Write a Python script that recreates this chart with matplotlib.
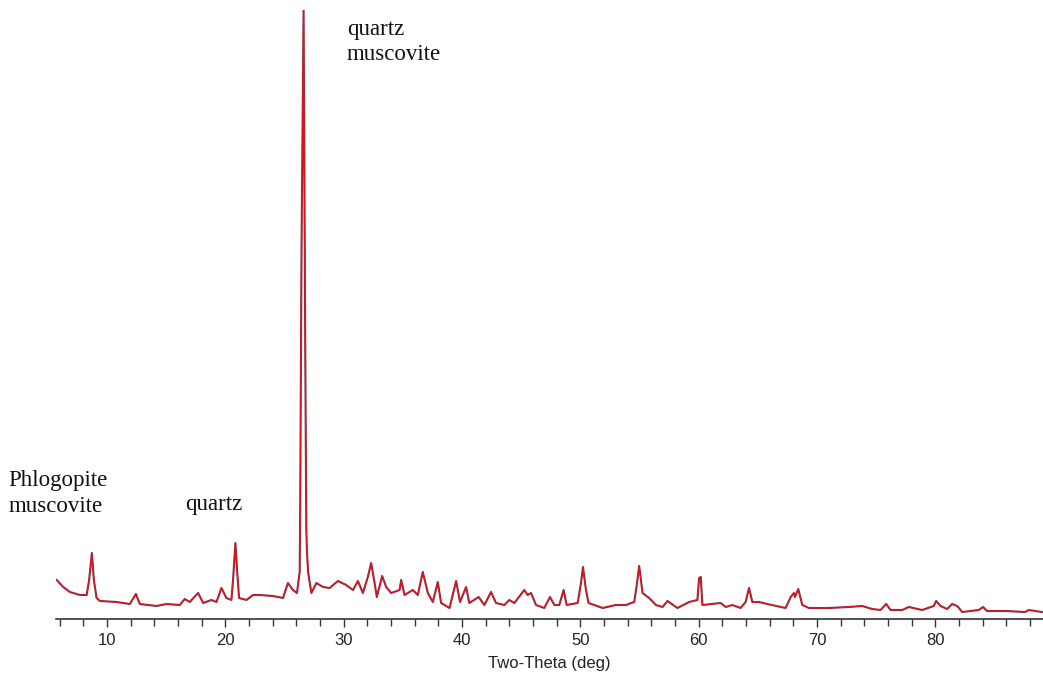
import numpy as np
import matplotlib.pyplot as plt

# XRD trace (2-theta in degrees, intensity in counts)
two_theta = [5.76, 6.31, 6.88, 7.72, 8.29, 8.50, 8.73, 8.90, 9.13, 9.41,
             10.82, 11.94, 12.45, 12.78, 14.19, 15.04, 16.16, 16.58, 17.00, 17.71,
             18.13, 18.83, 19.26, 19.68, 20.10, 20.52, 20.66, 20.86, 21.00, 21.17,
             21.79, 22.35, 22.91, 24.03, 24.88, 25.30, 25.72, 26.06, 26.29, 26.33,
             26.45, 26.62, 26.75, 26.85, 26.90, 27.00, 27.28, 27.70, 28.26, 28.82,
             29.52, 30.22, 30.79, 31.21, 31.63, 32.05, 32.33, 32.62, 32.81, 33.26,
             33.60, 34.02, 34.73, 34.87, 35.15, 35.85, 36.27, 36.69, 37.12, 37.54,
             37.96, 38.24, 38.95, 39.51, 39.84, 40.35, 40.63, 41.41, 41.90, 42.46,
             42.88, 43.59, 44.00, 44.43, 45.27, 45.55, 45.84, 46.26, 46.96, 47.44,
             47.81, 48.23, 48.59, 48.85, 49.78, 50.06, 50.23, 50.48, 50.70, 51.89,
             53.01, 53.86, 54.56, 54.75, 54.98, 55.26, 55.82, 56.39, 56.95, 57.37,
             58.21, 59.20, 59.90, 60.04, 60.18, 60.32, 61.86, 62.29, 62.85, 63.55,
             63.97, 64.26, 64.54, 65.10, 65.80, 67.35, 67.78, 68.06, 68.14, 68.42,
             68.76, 69.32, 71.01, 72.70, 73.82, 74.66, 75.37, 75.85, 76.22, 77.20,
             77.76, 78.89, 79.87, 80.07, 80.44, 81.00, 81.42, 81.85, 82.27, 83.67,
             84.04, 84.37, 85.93, 87.60, 87.89, 89.00]
counts = [195, 160, 135, 120, 120, 195, 330, 195, 105, 90,
          85, 75, 125, 75, 65, 75, 70, 100, 85, 130,
          80, 95, 85, 155, 105, 95, 195, 380, 245, 105,
          95, 120, 120, 115, 105, 180, 145, 130, 235, 520,
          1880, 3045, 1480, 450, 345, 235, 130, 180, 160, 155,
          190, 170, 145, 190, 130, 210, 280, 180, 110, 215,
          160, 130, 145, 195, 120, 145, 120, 235, 130, 85,
          185, 80, 55, 190, 85, 160, 80, 110, 70, 135,
          80, 70, 95, 80, 145, 120, 130, 70, 55, 110,
          70, 70, 145, 70, 80, 180, 260, 145, 80, 55,
          70, 70, 85, 160, 265, 130, 105, 70, 60, 90,
          55, 85, 95, 205, 210, 70, 80, 60, 70, 55,
          85, 155, 85, 85, 75, 55, 110, 130, 110, 150,
          70, 55, 55, 60, 65, 50, 45, 75, 45, 45,
          60, 45, 65, 90, 65, 50, 75, 65, 35, 45,
          60, 40, 40, 35, 45, 35]

# phase labels: (text, x, y)
labels = [('Phlogopite', 1.68, 665), ('muscovite', 1.68, 535),
          ('quartz', 16.6, 545),
          ('quartz', 30.26, 2920), ('muscovite', 30.26, 2795)]

fig = plt.figure(figsize=(10.43, 6.73), dpi=100)
ax = fig.add_axes([56 / 1043, 54 / 673, 987 / 1043, 609 / 673])

ax.plot(two_theta, counts, color='#8a3040', lw=1.5)
ax.plot(two_theta, counts, color='#e8101c', lw=0.7)

ax.set_xlim(5.7, 89.1)
ax.set_ylim(0, 3045)

for s in ['top', 'right', 'left']:
    ax.spines[s].set_visible(False)
ax.spines['bottom'].set_color('#333333')
ax.spines['bottom'].set_linewidth(1.2)
ax.set_yticks([])
ax.set_xticks(np.arange(10, 90, 10))
ax.set_xticks(np.arange(6, 90, 2), minor=True)
ax.tick_params(axis='x', which='major', length=6, width=1, color='#333333',
               labelsize=12, labelcolor='#222222', pad=4)
ax.tick_params(axis='x', which='minor', length=5, width=1, color='#333333')
for t in ax.get_xticklabels():
    t.set_family('Liberation Sans')

ax.set_xlabel('Two-Theta (deg)', fontsize=12, family='Liberation Sans',
              color='#222222', labelpad=6)

for txt, x, y in labels:
    ax.text(x, y, txt, family='Liberation Serif', fontsize=16.5,
            ha='left', va='baseline', color='#111111', clip_on=False)

fig.savefig('out.png', dpi=100)
